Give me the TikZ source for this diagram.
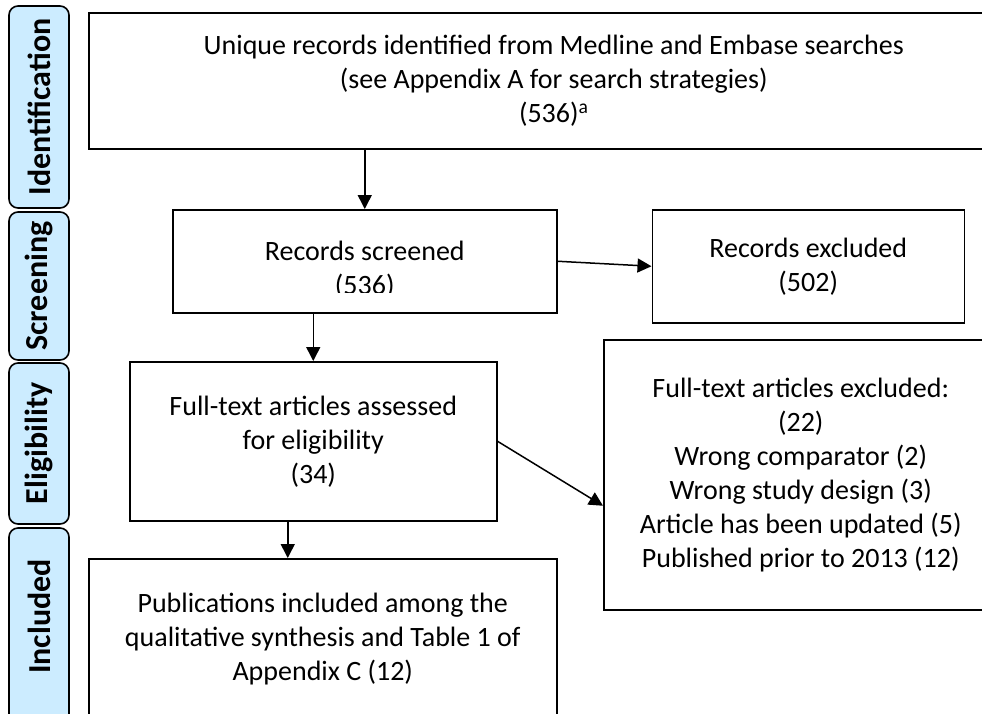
\documentclass[tikz,border=0pt]{standalone}
\usepackage{fontspec}
\setmainfont{Carlito}
\usetikzlibrary{positioning,arrows.meta}

\definecolor{stageblue}{RGB}{204,236,255}

\tikzset{
  stagebox/.style={draw, line width=1.6pt, rounded corners=9pt, fill=stageblue,
    rotate=90, minimum height=60pt, inner sep=0pt,
    font=\fontsize{32}{36}\selectfont\bfseries},
  flowbox/.style={draw, line width=1.5pt, anchor=north west, align=center,
    font=\fontsize{28}{34}\selectfont},
  flowtext/.style={align=center, font=\fontsize{28}{34}\selectfont},
  flowarrow/.style={line width=1.5pt, -{Triangle[length=14pt,width=14pt]}}
}

\begin{document}
\begin{tikzpicture}[x=1pt,y=-1pt]
\clip (0,0) rectangle (982,713);

% stages on the left
\node[stagebox, minimum width=202pt] (ident) at (39,107) {Identification};
\node[stagebox, minimum width=148pt] (screening) at (39,286) {Screening};
\node[stagebox, minimum width=161pt] (eligib) at (39,443.5) {Eligibility};
\node[stagebox, minimum width=217pt] (incl) at (39,636.5) {\hspace*{40pt}Included};

% flow boxes
\node[flowbox, minimum width=930pt, minimum height=136pt] (idbox) at (88,12)
  {Unique records identified from Medline and Embase searches\\
   (see Appendix A for search strategies)\\
   (536)\textsuperscript{a}};
\node[flowbox, minimum width=384pt, minimum height=103pt] (screen) at (172,209) {};
\begin{scope}
  \clip (screen.north west) rectangle ([yshift=21pt]screen.south east);
  \node[flowtext] (screentxt) at ([yshift=-8pt]screen.center) {Records screened\\(536)};
\end{scope}
\node[flowbox, minimum width=312pt, minimum height=113pt,
  right=94pt of screen.north east, anchor=north west] (recex)
  {Records excluded\\(502)};
\node[flowbox, minimum width=367pt, minimum height=159pt] (fulltext) at (129,361)
  {Full-text articles assessed\\for eligibility\\(34)};
\node[flowbox, minimum width=394pt, minimum height=270pt] (ftex) at (603,339)
  {Full-text articles excluded:\\(22)\\Wrong comparator (2)\\Wrong study design (3)\\
   Article has been updated (5)\\Published prior to 2013 (12)};
\node[flowbox, minimum width=468pt, minimum height=160pt] (pubs) at (88,558)
  {Publications included among the\\qualitative synthesis and Table 1 of\\Appendix C (12)};

% connectors
\coordinate[xshift=-25.5pt] (ftout) at (fulltext.south);
\draw[flowarrow] (idbox.south -| screen.north) -- (screen.north);
\draw[flowarrow] (screen.east) -- (recex.west);
\draw[flowarrow] (fulltext.north |- screen.south) -- (fulltext.north);
\draw[flowarrow] (fulltext.east) -- ([yshift=-31pt]ftex.west);
\draw[flowarrow] (ftout) -- (ftout |- pubs.north);
\end{tikzpicture}
\end{document}
